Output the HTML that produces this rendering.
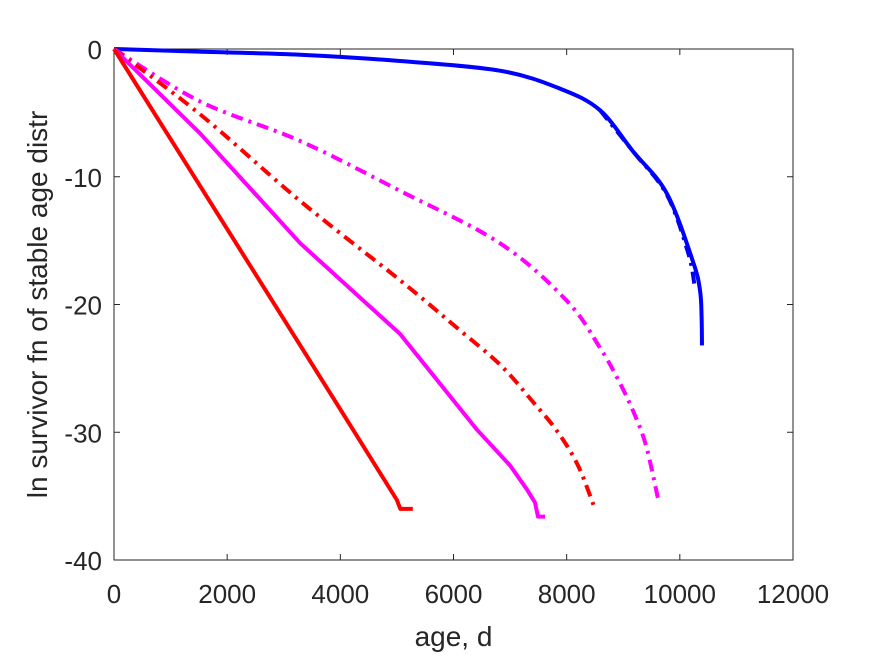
<!DOCTYPE html>
<html><head><meta charset="utf-8"><style>
html,body{margin:0;padding:0;background:#fff;width:875px;height:656px;overflow:hidden}
text{font-family:"Liberation Sans",Arial,sans-serif;fill:#262626}
</style></head><body>
<svg id="chart" width="875" height="656" viewBox="0 0 875 656" xmlns="http://www.w3.org/2000/svg">
<rect x="0" y="0" width="875" height="656" fill="#fff"/>
<g id="axes"></g>
<g id="series"></g>
</svg>
<script>
const xTicks=[0,2000,4000,6000,8000,10000,12000];
const yTicks=[0,-10,-20,-30,-40];
const redSolid=[[0,0],[1000,-7.05],[2000,-14.1],[3000,-21.15],[4000,-28.2],[5000,-35.3],[5060,-36],[5280,-36]];
const magentaSolid=[[0,0],[1520,-6.6],[3290,-15.2],[5055,-22.3],[6416,-29.8],[7000,-32.6],[7300,-34.5],[7440,-35.5],[7494,-36.6],[7617,-36.6]];
const redDashDot=[[0,0],[1520,-5.1],[3290,-11.9],[5055,-18.1],[6000,-21.6],[6820,-24.7],[7400,-27.6],[7830,-29.9],[8200,-32.6],[8500,-36]];
const magentaDashDot=[[0,0],[1520,-4.1],[3290,-7.2],[5055,-11.1],[6820,-15.2],[8000,-19.7],[8590,-23.4],[8900,-25.8],[9170,-28.3],[9400,-31],[9620,-35.3]];
const blueSolid=[[0,0],[1500,-0.2],[3290,-0.45],[5055,-0.94],[6820,-1.7],[7880,-3.1],[8590,-4.8],[9170,-8],[9770,-11.3],[10230,-16.6],[10357,-18.9],[10385,-21],[10392,-23.2]];
const blueDashDot=[[8590,-4.8],[9170,-8],[9770,-11.4],[10150,-16],[10260,-18.5]];

const L=114,R=793,T=49,B=560;
const X=v=>L+(v-0)/12000*(R-L);
const Y=v=>T+(0-v)/40*(B-T);
const NS="http://www.w3.org/2000/svg";
const axes=document.getElementById('axes'),ser=document.getElementById('series');
function mk(tag,attrs,parent){const e=document.createElementNS(NS,tag);for(const k in attrs)e.setAttribute(k,attrs[k]);parent.appendChild(e);return e;}

const box=mk('rect',{x:L,y:T,width:R-L,height:B-T,fill:'none',stroke:'#262626','stroke-width':1},axes);


xTicks.forEach(t=>{
  const l=mk('line',{x1:X(t),x2:X(t),y1:B,y2:B-6,stroke:'#262626'},axes);
  
  
  const l2=mk('line',{x1:X(t),x2:X(t),y1:T,y2:T+6,stroke:'#262626'},axes);
  
  
  const tx=mk('text',{x:X(t),y:B+43,'text-anchor':'middle','font-size':26},axes);
  tx.textContent=t;
  
  
});
yTicks.forEach(t=>{
  const l=mk('line',{x1:L,x2:L+6,y1:Y(t),y2:Y(t),stroke:'#262626'},axes);
  
  
  const l2=mk('line',{x1:R,x2:R-6,y1:Y(t),y2:Y(t),stroke:'#262626'},axes);
  
  
  const tx=mk('text',{x:L-12,y:Y(t)+10,'text-anchor':'end','font-size':26},axes);
  tx.textContent=t;
  
  
});
const xl=mk('text',{x:(L+R)/2,y:646,'text-anchor':'middle','font-size':28},axes);
xl.textContent='age, d';


const yl=mk('text',{x:0,y:0,'text-anchor':'middle','font-size':28,transform:'translate(47,'+((T+B)/2)+') rotate(-90)'},axes);
yl.textContent='ln survivor fn of stable age distr';



function smoothPath(data){
  const P=data.map(p=>[X(p[0]),Y(p[1])]);
  let d='M'+P[0][0].toFixed(1)+' '+P[0][1].toFixed(1);
  for(let i=0;i<P.length-1;i++){
    const p0=P[Math.max(0,i-1)],p1=P[i],p2=P[i+1],p3=P[Math.min(P.length-1,i+2)];
    const c1=[p1[0]+(p2[0]-p0[0])/6,p1[1]+(p2[1]-p0[1])/6];
    const c2=[p2[0]-(p3[0]-p1[0])/6,p2[1]-(p3[1]-p1[1])/6];
    d+=' C'+c1.map(v=>v.toFixed(1)).join(' ')+' '+c2.map(v=>v.toFixed(1)).join(' ')+' '+p2[0].toFixed(1)+' '+p2[1].toFixed(1);
  }
  return d;
}
function polyPath(data){return data.map((p,i)=>(i?'L':'M')+X(p[0]).toFixed(1)+' '+Y(p[1]).toFixed(1)).join(' ');}
function line(data,color,dash,name,smooth){
  const p=mk('path',{d:smooth?smoothPath(data):polyPath(data),fill:'none',stroke:color,'stroke-width':4,'stroke-linejoin':'round'},ser);
  if(dash)p.setAttribute('stroke-dasharray',dash);
  
  
}
line(blueDashDot,'#0000ff','12 6 3 6','blue-dashdot-line',true);
line(blueSolid,'#0000ff',null,'blue-solid-line',true);
line(magentaDashDot,'#ff00ff','12 6 3 6','magenta-dashdot-line',true);
line(redDashDot,'#ff0000','12 6 3 6','red-dashdot-line',true);
line(magentaSolid,'#ff00ff',null,'magenta-solid-line',false);
line(redSolid,'#ff0000',null,'red-solid-line',false);
</script>
</body></html>
